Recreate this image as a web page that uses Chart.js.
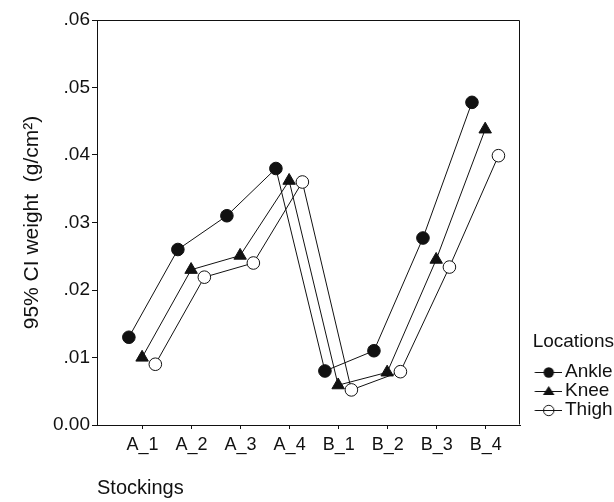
<!DOCTYPE html>
<html>
<head>
<meta charset="utf-8">
<script src="https://cdn.jsdelivr.net/npm/chart.js@4.4.1/dist/chart.umd.min.js"></script>
<style>
  html, body { margin: 0; padding: 0; background: #ffffff; }
  #wrap { width: 614px; height: 502px; }
</style>
</head>
<body>
<div id="wrap"><canvas id="c" width="614" height="502"></canvas></div>
<script>
// ---- data ----
const categories = ['A_1', 'A_2', 'A_3', 'A_4', 'B_1', 'B_2', 'B_3', 'B_4'];
const seriesNames = ['Ankle', 'Knee', 'Thigh'];
const ankle = [0.013, 0.026, 0.031, 0.038, 0.008, 0.011, 0.0277, 0.0478];
const knee  = [0.010, 0.023, 0.0251, 0.0362, 0.0059, 0.0078, 0.0245, 0.0438];
const thigh = [0.009, 0.0219, 0.024, 0.036, 0.0052, 0.0079, 0.0234, 0.0399];
const yTickValues = [0, 0.01, 0.02, 0.03, 0.04, 0.05, 0.06];
const yTickLabels = ['0.00', '.01', '.02', '.03', '.04', '.05', '.06'];

const INK = '#111111';
const FONT = "'Liberation Sans', Arial, sans-serif";

// horizontal dodge of each series around its category
const dodge = { Ankle: -0.28, Knee: -0.01, Thigh: 0.26 };

function toPoints(vals, off) {
  return vals.map((v, i) => ({ x: i + off, y: v }));
}

// legend icons: a short line with the marker on it
function legendIcon(kind) {
  const cv = document.createElement('canvas');
  cv.width = 49; cv.height = 14;
  const g = cv.getContext('2d');
  g.strokeStyle = INK; g.fillStyle = INK; g.lineWidth = 1;
  g.beginPath(); g.moveTo(21.5, 7.5); g.lineTo(49, 7.5); g.stroke();
  const cx = 35.5, cy = 7.5;
  g.beginPath();
  if (kind === 'circle') {
    g.arc(cx, cy, 5.2, 0, Math.PI * 2); g.fill();
  } else if (kind === 'triangle') {
    g.moveTo(cx, cy - 5.5); g.lineTo(cx + 5.8, cy + 3.5); g.lineTo(cx - 5.8, cy + 3.5); g.closePath(); g.fill();
  } else {
    g.arc(cx, cy, 5.2, 0, Math.PI * 2); g.stroke();
  }
  return cv;
}
const icons = [legendIcon('circle'), legendIcon('triangle'), legendIcon('open')];

const frame = {
  id: 'frame',
  beforeDatasetsDraw(chart) {
    const a = chart.chartArea, ctx = chart.ctx;
    ctx.save();
    ctx.strokeStyle = INK; ctx.lineWidth = 1;
    ctx.beginPath();
    ctx.moveTo(Math.round(a.left) + 0.5, Math.round(a.top) + 0.5);
    ctx.lineTo(Math.round(a.right) - 0.5, Math.round(a.top) + 0.5);
    ctx.lineTo(Math.round(a.right) - 0.5, Math.round(a.bottom) - 0.5);
    ctx.stroke();
    ctx.restore();
  }
};

new Chart(document.getElementById('c'), {
  type: 'scatter',
  data: {
    datasets: [
      { label: seriesNames[0], data: toPoints(ankle, dodge.Ankle), showLine: true,
        borderColor: INK, borderWidth: 1, pointStyle: 'circle', pointRadius: 6.3,
        pointBackgroundColor: INK, pointBorderColor: INK, pointBorderWidth: 1 },
      { label: seriesNames[1], data: toPoints(knee, dodge.Knee), showLine: true,
        borderColor: INK, borderWidth: 1, pointStyle: 'triangle', pointRadius: 7.2,
        pointBackgroundColor: INK, pointBorderColor: INK, pointBorderWidth: 1 },
      { label: seriesNames[2], data: toPoints(thigh, dodge.Thigh), showLine: true,
        borderColor: INK, borderWidth: 1, pointStyle: 'circle', pointRadius: 6.3,
        pointBackgroundColor: '#ffffff', pointBorderColor: INK, pointBorderWidth: 1 }
    ]
  },
  options: {
    responsive: false,
    animation: false,
    devicePixelRatio: 1,
    layout: { padding: { top: 20, left: 0, right: 0, bottom: 0 } },
    plugins: {
      tooltip: { enabled: false },
      legend: {
        position: 'right',
        align: 'start',
        fullSize: false,
        maxWidth: 94,
        title: {
          display: true, text: 'Locations', position: 'end', color: INK,
          font: { family: FONT, size: 19 }, padding: { top: 312.5, bottom: 7.2 }
        },
        labels: {
          color: INK,
          font: { family: FONT, size: 19 },
          padding: 0,
          usePointStyle: true,
          pointStyleWidth: 35.5,
          generateLabels(chart) {
            return chart.data.datasets.map((d, i) => ({
              text: d.label, pointStyle: icons[i], fillStyle: INK, strokeStyle: INK,
              lineWidth: 0, fontColor: INK, datasetIndex: i, hidden: false
            }));
          }
        }
      }
    },
    scales: {
      x: {
        type: 'linear',
        min: -0.93, max: 7.7,
        afterFit(s) { s.height = 77; },
        afterBuildTicks(s) { s.ticks = categories.map((c, i) => ({ value: i })); },
        ticks: {
          color: INK, font: { family: FONT, size: 18 }, padding: 5,
          maxRotation: 0, autoSkip: false,
          callback: (v) => categories[Math.round(v)]
        },
        grid: { display: true, drawOnChartArea: false, drawTicks: true, tickLength: 4, color: INK },
        border: { display: true, color: INK, width: 1 },
        title: {
          display: true, text: 'Stockings', align: 'start', color: INK,
          font: { family: FONT, size: 20 }, padding: { top: 0, bottom: 2 }
        }
      },
      y: {
        type: 'linear',
        min: 0, max: 0.06,
        afterFit(s) { s.width = 97; },
        afterBuildTicks(s) { s.ticks = yTickValues.map(v => ({ value: v })); },
        ticks: {
          color: INK, font: { family: FONT, size: 19 }, padding: 2,
          callback: (v, i) => yTickLabels[i]
        },
        grid: { display: true, drawOnChartArea: false, drawTicks: true, tickLength: 5, color: INK },
        border: { display: true, color: INK, width: 1 },
        title: {
          display: true, text: '95% CI weight  (g/cm\u00B2)', color: INK,
          font: { family: FONT, size: 21 }, padding: { top: 20, bottom: 0 }
        }
      }
    }
  },
  plugins: [frame]
});
</script>
</body>
</html>
